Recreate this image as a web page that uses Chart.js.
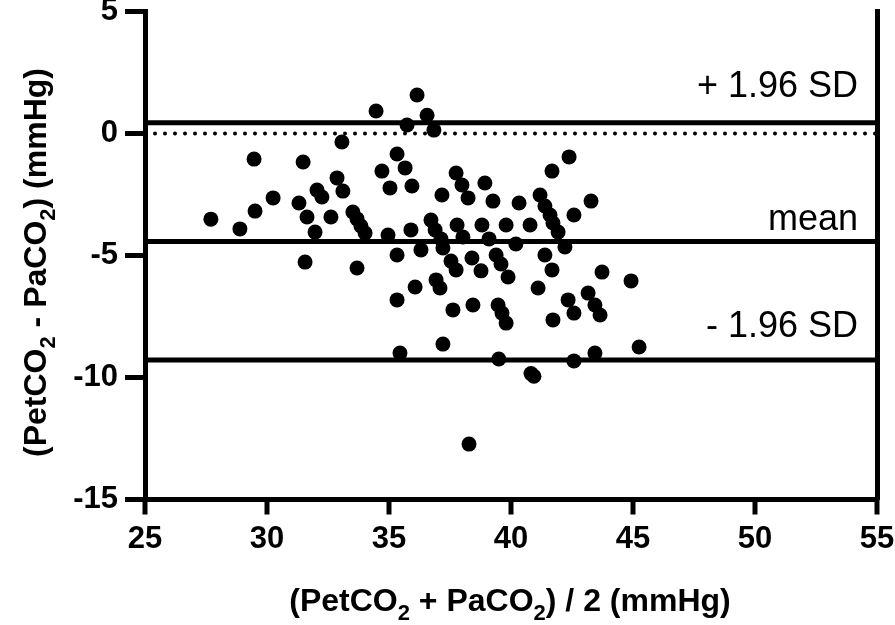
<!DOCTYPE html>
<html>
<head>
<meta charset="utf-8">
<script src="https://cdn.jsdelivr.net/npm/chart.js@4.4.1/dist/chart.umd.min.js"></script>
<style>
  html, body { margin: 0; padding: 0; background: #fff; }
  #wrap { width: 895px; height: 625px; }
</style>
</head>
<body>
<div id="wrap"><canvas id="chart"></canvas></div>
<script>
// Bland-Altman: mean of the two methods vs. their difference
const meanVals = [
  27.70, 28.89, 29.47, 29.51, 30.25, 31.31, 31.48, 31.56, 31.64, 31.97,
  32.05, 32.25, 32.62, 32.87, 33.07, 33.11, 33.52, 33.69, 33.85, 34.02,
  34.96, 35.90, 36.72, 36.89, 37.13, 37.21,
  36.15, 34.47, 36.56, 35.74, 36.84, 35.33, 34.71, 35.66, 35.04, 35.94, 37.17,
  35.33, 36.31, 33.69, 36.07, 36.93, 37.09, 35.33, 37.21, 35.45,
  37.75, 37.99, 38.24, 38.93, 39.26, 40.33, 41.19, 41.39, 41.60, 41.68, 42.38, 43.28, 42.58,
  37.79, 38.81, 39.80, 40.78, 41.72, 41.93,
  38.03, 39.10, 40.20, 42.21,
  39.39, 39.59, 39.88, 37.54, 37.75, 38.40, 38.77, 41.39, 41.68,
  41.11, 43.73, 44.92, 37.62, 38.44, 39.47, 39.63, 39.80, 41.72,
  42.34, 42.58, 43.16, 43.44, 43.65,
  45.25, 39.50, 42.58, 43.44, 40.82, 40.94, 38.28
];
const diffVals = [
  -3.51, -3.91, -1.05, -3.18, -2.64, -2.85, -1.17, -5.27, -3.42, -4.04,
  -2.32, -2.60, -3.42, -1.82, -0.35, -2.36, -3.22, -3.50, -3.79, -4.08,
  -4.16, -3.95, -3.55, -3.95, -4.32, -4.69,
  1.58, 0.92, 0.75, 0.35, 0.14, -0.84, -1.54, -1.41, -2.23, -2.15, -2.52,
  -4.98, -4.77, -5.51, -6.29, -6.00, -6.33, -6.82, -8.63, -9.00,
  -1.62, -2.11, -2.64, -2.03, -2.77, -2.85, -2.52, -2.97, -3.34, -1.54, -0.96, -2.77, -3.34,
  -3.75, -3.75, -3.75, -3.75, -3.67, -4.04,
  -4.24, -4.32, -4.53, -4.65,
  -4.98, -5.35, -5.88, -5.23, -5.59, -5.10, -5.63, -4.98, -5.59,
  -6.33, -5.68, -6.04, -7.23, -7.03, -7.03, -7.36, -7.77, -7.64,
  -6.82, -7.36, -6.54, -7.03, -7.44,
  -8.75, -9.24, -9.32, -9.00, -9.84, -9.95, -12.73
];

const biasMean = -4.43;
const upperLoA = 0.44;
const lowerLoA = -9.28;
const zeroLine = 0;

const xRange = [25, 55];
const yRange = [-15, 5];
const xTicks = [25, 30, 35, 40, 45, 50, 55];
const yTicks = [-15, -10, -5, 0, 5];

const refLabels = [
  { text: '+ 1.96 SD', value: upperLoA, lift: 26 },
  { text: 'mean', value: biasMean, lift: 12 },
  { text: '- 1.96 SD', value: lowerLoA, lift: 23 }
];

// axis titles, split so the "2" can be set as a subscript
const xTitle = [['(PetCO'], ['2', 1], [' + PaCO'], ['2', 1], [') / 2 (mmHg)']];
const yTitle = [['(PetCO'], ['2', 1], [' - PaCO'], ['2', 1], [') (mmHg)']];

const points = meanVals.map((x, i) => ({ x: x, y: diffVals[i] }));
const hLine = v => xRange.map(x => ({ x: x, y: v }));

const FONT = "'Liberation Sans', Arial, Helvetica, sans-serif";

function drawRich(ctx, parts, cx, cy) {
  const big = 'bold 32px ' + FONT, small = 'bold 22px ' + FONT;
  let w = 0;
  parts.forEach(p => { ctx.font = p[1] ? small : big; w += ctx.measureText(p[0]).width; });
  let x = cx - w / 2;
  parts.forEach(p => {
    ctx.font = p[1] ? small : big;
    ctx.fillText(p[0], x, p[1] ? cy + 9 : cy);
    x += ctx.measureText(p[0]).width;
  });
}

const annotations = {
  id: 'annotations',
  afterDraw(chart) {
    const { ctx, scales, chartArea } = chart;
    ctx.save();

    // outside tick marks
    ctx.strokeStyle = '#000';
    ctx.lineWidth = 5;
    ctx.lineCap = 'butt';
    ctx.beginPath();
    xTicks.forEach(v => {
      const px = scales.x.getPixelForValue(v);
      ctx.moveTo(px, chartArea.bottom);
      ctx.lineTo(px, chartArea.bottom + 15);
    });
    yTicks.forEach(v => {
      const py = scales.y.getPixelForValue(v);
      ctx.moveTo(chartArea.left, py);
      ctx.lineTo(chartArea.left - 20, py);
    });
    ctx.stroke();

    ctx.fillStyle = '#000';
    ctx.textBaseline = 'alphabetic';
    ctx.font = '36px ' + FONT;
    ctx.textAlign = 'right';
    const right = scales.x.getPixelForValue(xRange[1]) - 19;
    refLabels.forEach(l => {
      ctx.fillText(l.text, right, scales.y.getPixelForValue(l.value) - l.lift);
    });

    ctx.textAlign = 'left';
    const midX = (chartArea.left + chartArea.right) / 2;
    drawRich(ctx, xTitle, midX - 1, 611);

    ctx.translate(46, (chartArea.top + chartArea.bottom) / 2 + 7);
    ctx.rotate(-Math.PI / 2);
    drawRich(ctx, yTitle, 0, 0);
    ctx.restore();
  }
};

const lineStyle = { type: 'line', showLine: true, pointRadius: 0, borderColor: '#000', borderWidth: 5, fill: false, order: 1 };

new Chart(document.getElementById('chart'), {
  type: 'scatter',
  data: {
    datasets: [
      { data: points, backgroundColor: '#000', borderWidth: 0, pointRadius: 7.5, order: 0 },
      Object.assign({ data: hLine(upperLoA) }, lineStyle),
      Object.assign({ data: hLine(biasMean) }, lineStyle),
      Object.assign({ data: hLine(lowerLoA) }, lineStyle),
      Object.assign({}, lineStyle, { data: hLine(zeroLine), borderWidth: 4, borderDash: [0, 10], borderCapStyle: 'round' })
    ]
  },
  options: {
    responsive: true,
    maintainAspectRatio: false,
    animation: false,
    layout: { padding: { top: 11.5, right: 18, bottom: 0, left: 0 } },
    plugins: { legend: { display: false }, tooltip: { enabled: false } },
    scales: {
      x: {
        type: 'linear', min: xRange[0], max: xRange[1],
        afterBuildTicks: s => { s.ticks = xTicks.map(v => ({ value: v })); },
        afterFit: s => { s.height = 125.5; s.paddingLeft = 0; s.paddingRight = 0; },
        border: { width: 5, color: '#000' },
        grid: { drawOnChartArea: false, drawTicks: false },
        ticks: { color: '#000', padding: 21, font: { family: FONT, size: 31, weight: 'bold' } },
        title: { display: false }
      },
      y: {
        type: 'linear', min: yRange[0], max: yRange[1],
        afterBuildTicks: s => { s.ticks = yTicks.map(v => ({ value: v })); },
        afterFit: s => { s.width = 145; s.paddingTop = 0; s.paddingBottom = 0; },
        border: { width: 5, color: '#000' },
        grid: { drawOnChartArea: false, drawTicks: false },
        ticks: { color: '#000', padding: 27, font: { family: FONT, size: 31, weight: 'bold' } },
        title: { display: false }
      },
      y2: {
        type: 'linear', position: 'right', min: yRange[0], max: yRange[1],
        afterFit: s => { s.width = 0; s.paddingTop = 0; s.paddingBottom = 0; },
        border: { width: 5, color: '#000' },
        grid: { display: false },
        ticks: { display: false }
      }
    }
  },
  plugins: [annotations]
});
</script>
</body>
</html>
